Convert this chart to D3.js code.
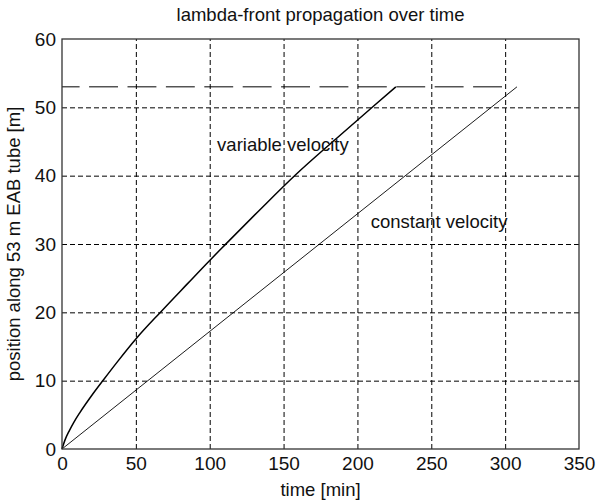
<!DOCTYPE html>
<html>
<head>
<meta charset="utf-8">
<script src="https://cdn.jsdelivr.net/npm/d3@7"></script>
<style>
    body { margin: 0; background: #fff; }
    text { font-family: "Liberation Sans", Arial, sans-serif; fill: #111; }
    .grid line { stroke: #000; stroke-dasharray: 5,3; stroke-width: 1; }
    .grid path { display: none; }
</style>
</head>
<body>
<div id="chart"></div>
<script>
// variable velocity front
const variableTime = [0, 2, 5, 8, 12, 20, 28, 38, 50, 67, 85, 100, 110, 133, 158, 185, 211, 226];
const variablePos = [0, 1.3, 2.7, 3.9, 5.3, 7.8, 10.1, 12.9, 16.1, 20.1, 24.2, 27.6, 29.8, 34.8, 40.1, 45.3, 50.2, 53];

// constant velocity front
const constantTime = [0, 308];
const constantPos = [0, 53];

// tube end marker
const tubeTime = [0, 300];
const tubePos = [53, 53];

const xTicks = [0, 50, 100, 150, 200, 250, 300, 350];
const yTicks = [0, 10, 20, 30, 40, 50, 60];

function createChart() {
    const margin = { top: 39, right: 30, bottom: 53, left: 62 };
    const width = 609 - margin.left - margin.right;
    const height = 502 - margin.top - margin.bottom;

    const svg = d3.select('#chart').append('svg')
        .attr('width', 609)
        .attr('height', 502);

    svg.append('rect')
        .attr('width', 609)
        .attr('height', 502)
        .attr('fill', '#fff');

    const g = svg.append('g')
        .attr('transform', `translate(${margin.left},${margin.top})`);

    const x = d3.scaleLinear().domain([0, 350]).range([0, width]);
    const y = d3.scaleLinear().domain([0, 60]).range([height, 0]);

    // dashed grid
    g.append('g')
        .attr('class', 'grid')
        .attr('transform', `translate(0, ${height})`)
        .call(d3.axisBottom(x).tickValues(xTicks.slice(1, -1)).tickSize(-height).tickFormat(''));

    g.append('g')
        .attr('class', 'grid')
        .call(d3.axisLeft(y).tickValues(yTicks.slice(1, -1)).tickSize(-width).tickFormat(''));

    // tick labels
    const xAxis = g.append('g')
        .attr('transform', `translate(0, ${height})`)
        .call(d3.axisBottom(x).tickValues(xTicks).tickSize(0).tickPadding(8));
    xAxis.select('.domain').remove();
    xAxis.selectAll('text').style('font-size', '19px');

    const yAxis = g.append('g')
        .call(d3.axisLeft(y).tickValues(yTicks).tickSize(0).tickPadding(6));
    yAxis.select('.domain').remove();
    yAxis.selectAll('text').style('font-size', '19px');

    const line = d3.line()
        .x(d => x(d[0]))
        .y(d => y(d[1]));

    g.append('path')
        .datum(tubeTime.map((t, i) => [t, tubePos[i]]))
        .attr('fill', 'none')
        .attr('stroke', '#000')
        .attr('stroke-width', 1)
        .attr('stroke-dasharray', '28.9,9.5')
        .attr('stroke-dashoffset', 11.3)
        .attr('d', line);

    g.append('path')
        .datum(constantTime.map((t, i) => [t, constantPos[i]]))
        .attr('fill', 'none')
        .attr('stroke', '#000')
        .attr('stroke-width', 0.9)
        .attr('d', line);

    g.append('path')
        .datum(variableTime.map((t, i) => [t, variablePos[i]]))
        .attr('fill', 'none')
        .attr('stroke', '#000')
        .attr('stroke-width', 1.5)
        .attr('d', line.curve(d3.curveMonotoneX));

    // box
    g.append('rect')
        .attr('width', width)
        .attr('height', height)
        .attr('fill', 'none')
        .attr('stroke', '#333')
        .attr('stroke-width', 1.3);

    // annotations
    g.append('text')
        .attr('x', x(105))
        .attr('y', y(43.6))
        .style('font-size', '18.5px')
        .text('variable velocity');

    g.append('text')
        .attr('x', x(209))
        .attr('y', y(32.3))
        .style('font-size', '18.5px')
        .text('constant velocity');

    // titles
    svg.append('text')
        .attr('x', margin.left + width / 2)
        .attr('y', 21)
        .style('text-anchor', 'middle')
        .style('font-size', '18.5px')
        .text('lambda-front propagation over time');

    svg.append('text')
        .attr('x', margin.left + width / 2)
        .attr('y', 496)
        .style('text-anchor', 'middle')
        .style('font-size', '18.5px')
        .text('time [min]');

    svg.append('text')
        .attr('transform', 'rotate(-90)')
        .attr('x', -(margin.top + height / 2))
        .attr('y', 20)
        .style('text-anchor', 'middle')
        .style('font-size', '18.5px')
        .text('position along 53 m EAB tube [m]');
}

createChart();
</script>
</body>
</html>
